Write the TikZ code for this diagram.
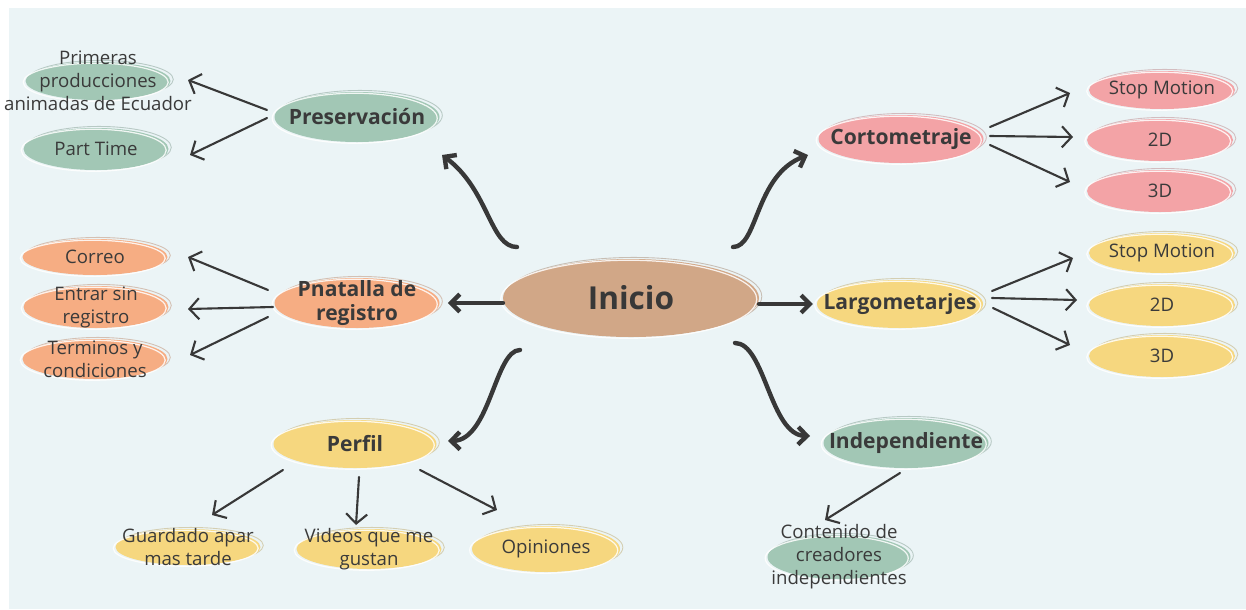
\documentclass[tikz,border=0pt]{standalone}
\usepackage{fontspec}
\setmainfont{Open Sans}
\usetikzlibrary{shapes.geometric,arrows.meta}
\definecolor{bgc}{HTML}{EBF4F6}
\definecolor{sage}{HTML}{A2C7B5}
\definecolor{rosa}{HTML}{F3A3A6}
\definecolor{naranja}{HTML}{F6AD83}
\definecolor{amarillo}{HTML}{F6D77F}
\definecolor{tostado}{HTML}{D1A787}
\definecolor{txt}{HTML}{3A3A3A}
\definecolor{arr}{HTML}{383838}
\def\kidfont{\fontsize{10.6}{13.1}\selectfont}
\def\bossfont{\fontsize{12}{14.2}\selectfont\bfseries}
\tikzset{
	bub/.style={ellipse, fill=#1, inner sep=-80pt, outer sep=0pt, text=txt, align=center, font=\kidfont,
		preaction={draw=#1!75!black, draw opacity=0.45, line width=0.5pt, transform canvas={xshift=1.6pt, yshift=0.9pt}},
		postaction={draw=white, draw opacity=0.85, line width=0.7pt, transform canvas={xshift=-1.3pt, yshift=-0.7pt}}},
	sz/.style 2 args={minimum width=#1*0.02cm, minimum height=#2*0.02cm},
	bigarrow/.style={draw=arr, line width=2.5pt, line cap=round, -{Straight Barb[length=5pt,width=10pt]}},
	kidarrow/.style={draw=arr, line width=1.2pt, line cap=round, -{Straight Barb[length=5.5pt,width=12pt]}},
}

\begin{document}
\begin{tikzpicture}[x=0.02cm, y=-0.02cm]
		%%%%% START %%%%%
		
		\fill[white] (0,0) rectangle (1246,609);
		\useasboundingbox (0,0) rectangle (1246,609);
		\fill[bgc] (9,8) rectangle (1246,609);
		
		\node[bub=tostado, sz={256}{78}, font=\fontsize{18}{20}\selectfont\bfseries, text=arr] (ini) at (631,298) {Inicio};
		
		\node[bub=sage, sz={165}{50}, font=\bossfont] (pres) at (357,117) {Preservación};
		\node[bub=sage, sz={145}{38}] (prim) at (98,81) {Primeras\\producciones\\animadas de Ecuador};
		\node[bub=sage, sz={145}{42}] (part) at (96,149) {Part Time};
		
		\node[bub=naranja, sz={165}{50}, font=\bossfont] (pnat) at (357,303) {Pnatalla de\\registro};
		\node[bub=naranja, sz={145}{36}] (corr) at (95,257) {Correo};
		\node[bub=naranja, sz={145}{42}] (entr) at (96,307) {Entrar sin\\registro};
		\node[bub=naranja, sz={145}{40}] (term) at (95,359) {Terminos y\\condiciones};
		
		\node[bub=amarillo, sz={163}{48}, font=\bossfont] (perf) at (355,444) {Perfil};
		\node[bub=amarillo, sz={145}{36}] (guar) at (188,547) {Guardado apar\\mas tarde};
		\node[bub=amarillo, sz={145}{40}] (vide) at (369,549) {Videos que me\\gustan};
		\node[bub=amarillo, sz={148}{46}] (opin) at (546,549) {Opiniones};
		
		\node[bub=sage, sz={165}{50}, font=\bossfont] (inde) at (906,443) {Independiente};
		\node[bub=sage, sz={143}{44}] (cont) at (839,557) {Contenido de\\creadores\\independientes};
		
		\node[bub=rosa, sz={165}{48}, font=\bossfont] (cort) at (901,139) {Cortometraje};
		\node[bub=rosa, sz={146}{38}] (cs) at (1162,90) {Stop Motion};
		\node[bub=rosa, sz={146}{42}] (c2) at (1160,140) {2D};
		\node[bub=rosa, sz={146}{42}] (c3) at (1160,191) {3D};
		
		\node[bub=amarillo, sz={166}{48}, font=\bossfont] (larg) at (900,304) {Largometarjes};
		\node[bub=amarillo, sz={146}{40}] (ls) at (1162,253) {Stop Motion};
		\node[bub=amarillo, sz={146}{42}] (l2) at (1162,305) {2D};
		\node[bub=amarillo, sz={146}{42}] (l3) at (1162,356) {3D};
		
		% Inicio to the six branches
		\draw[bigarrow, shorten >=4.8pt] (ini.west |- pnat.east) -- (pnat.east);
		\draw[bigarrow, shorten >=2.3pt] (ini.east |- larg.west) -- (larg.west);
		\draw[bigarrow] ([shift={(-23.5,-23.4)}]ini.north west) .. controls +(-27,0) and +(47,35) .. ([shift={(26.7,20.3)}]pres.south east);
		\draw[bigarrow] ([shift={(11.5,-23.4)}]ini.north east) .. controls +(25,0) and +(-53,20) .. ([shift={(-10.5,16)}]cort.west);
		\draw[bigarrow] ([shift={(-20.5,24.4)}]ini.south west) .. controls +(-25,0) and +(42,-1) .. ([shift={(11.5,-3)}]perf.east);
		\draw[bigarrow] ([shift={(13.5,17.4)}]ini.south east) .. controls +(30,0) and +(-40,-1) .. ([shift={(-13.5,-7)}]inde.west);
		
		% Preservacion
		\draw[kidarrow] ([shift={(-7.5,-7)}]pres.west) -- ([shift={(17.5,-1)}]prim.east);
		\draw[kidarrow] ([shift={(-7.5,1)}]pres.west) -- ([shift={(21.5,6)}]part.east);
		
		% registro
		\draw[kidarrow] ([shift={(-6.5,-13)}]pnat.west) -- ([shift={(20.5,0)}]corr.east);
		\draw[kidarrow] ([shift={(-1.5,4)}]pnat.west) -- ([shift={(19.5,2)}]entr.east);
		\draw[kidarrow] ([shift={(-6.5,14)}]pnat.west) -- ([shift={(22.5,-4)}]term.east);
		
		% Perfil
		\draw[kidarrow] ([shift={(-14.4,9)}]perf.south west) -- ([shift={(24,-14)}]guar.north);
		\draw[kidarrow] ([shift={(4,9)}]perf.south) -- ([shift={(-13,-4)}]vide.north);
		\draw[kidarrow] ([shift={(7.4,9)}]perf.south east) -- ([shift={(3.3,-22.7)}]opin.north west);
		
		% Independiente
		\draw[kidarrow] ([shift={(-6,5)}]inde.south) -- ([shift={(-14,-15)}]cont.north);
		
		% Cortometraje
		\draw[kidarrow] ([shift={(6.5,-12)}]cort.east) -- ([shift={(-19,3)}]cs.west);
		\draw[kidarrow] ([shift={(6.5,-3)}]cort.east) -- ([shift={(-14,-3)}]c2.west);
		\draw[kidarrow] ([shift={(6.5,6)}]cort.east) -- ([shift={(-17,-9)}]c3.west);
		
		% Largometarjes
		\draw[kidarrow] ([shift={(9,-13)}]larg.east) -- ([shift={(-16,5)}]ls.west);
		\draw[kidarrow] ([shift={(9,-6)}]larg.east) -- ([shift={(-12,-5)}]l2.west);
		\draw[kidarrow] ([shift={(10,4)}]larg.east) -- ([shift={(-19,-11)}]l3.west);
		
		%%%%% END %%%%%
\end{tikzpicture}
\end{document}
